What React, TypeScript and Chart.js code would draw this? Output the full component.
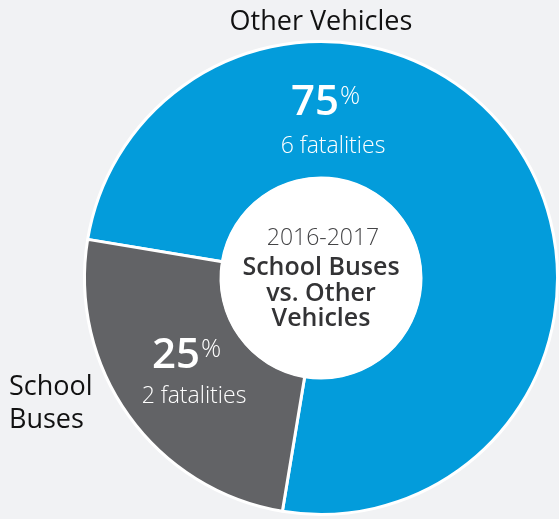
import React, { useEffect, useRef } from "react";
import { Chart, registerables } from "chart.js";

Chart.register(...registerables);

const categories = ["Other Vehicles", "School Buses"];
const fatalities = [6, 2];
const percents = ["75", "25"];
const centerYear = "2016-2017";
const centerTitle = ["School Buses", "vs. Other", "Vehicles"];

const BLUE = "#039cdb";
const GRAY = "#626366";
const BG = "#f1f2f4";
const FONT = "'Open Sans', 'Noto Sans', sans-serif";

const textPlugin = {
  id: "donutText",
  afterDatasetsDraw(chart: any) {
    const ctx = chart.ctx;
    const arc = chart.getDatasetMeta(0).data[0];
    const cx = arc.x;
    const cy = arc.y;
    ctx.save();
    // white center disc
    ctx.beginPath();
    ctx.arc(cx, cy, 101, 0, Math.PI * 2);
    ctx.fillStyle = "#ffffff";
    ctx.fill();

    ctx.textBaseline = "alphabetic";

    // center texts
    ctx.textAlign = "center";
    ctx.fillStyle = "#444446";
    ctx.font = `300 23px ${FONT}`;
    ctx.fillText(centerYear, cx + 2, cy - 33);
    ctx.fillStyle = "#333335";
    ctx.font = `600 25px ${FONT}`;
    ctx.fillText(centerTitle[0], cx + 0, cy - 3);
    ctx.fillText(centerTitle[1], cx + 0, cy + 23);
    ctx.fillText(centerTitle[2], cx + 0, cy + 48);

    // outside labels
    ctx.fillStyle = "#111111";
    ctx.font = `400 27px ${FONT}`;
    ctx.textAlign = "center";
    ctx.fillText(categories[0], cx, cy - 248);
    ctx.textAlign = "left";
    ctx.fillText("School", cx - 312, cy + 117);
    ctx.fillText("Buses", cx - 312, cy + 150);

    // percentages
    const drawPct = (val: string, px: number, py: number) => {
      ctx.fillStyle = "#ffffff";
      ctx.textAlign = "left";
      ctx.font = `600 42px ${FONT}`;
      ctx.fillText(val, px, py);
      const w = ctx.measureText(val).width;
      ctx.font = `300 25px ${FONT}`;
      ctx.fillText("%", px + w + 1, py - 11);
    };
    drawPct(percents[0], cx - 30, cy - 163);
    drawPct(percents[1], cx - 169, cy + 90);

    ctx.fillStyle = "#ffffff";
    ctx.textAlign = "center";
    ctx.font = `300 23px ${FONT}`;
    ctx.fillText(`${fatalities[0]} fatalities`, cx + 12, cy - 125);
    ctx.fillText(`${fatalities[1]} fatalities`, cx - 127, cy + 125);
    ctx.restore();
  },
};

export default function App() {
  const ref = useRef<HTMLCanvasElement | null>(null);
  useEffect(() => {
    document.body.style.margin = "0";
    document.body.style.background = BG;
    if (!ref.current) return;
    const chart = new Chart(ref.current, {
      type: "doughnut",
      data: {
        labels: categories,
        datasets: [
          {
            data: fatalities,
            backgroundColor: [BLUE, GRAY],
            borderColor: "#ffffff",
            borderWidth: 3,
          },
        ],
      },
      options: {
        responsive: false,
        animation: false,
        devicePixelRatio: 1,
        rotation: 279.4,
        cutout: 100,
        layout: { padding: { left: 83, top: 40, right: 0, bottom: 3 } },
        plugins: {
          legend: { display: false },
          tooltip: { enabled: false },
        },
      },
      plugins: [textPlugin],
    });
    return () => chart.destroy();
  }, []);
  return (
    <div style={{ width: 559, height: 519, background: BG }}>
      <canvas ref={ref} width={559} height={519} />
    </div>
  );
}
